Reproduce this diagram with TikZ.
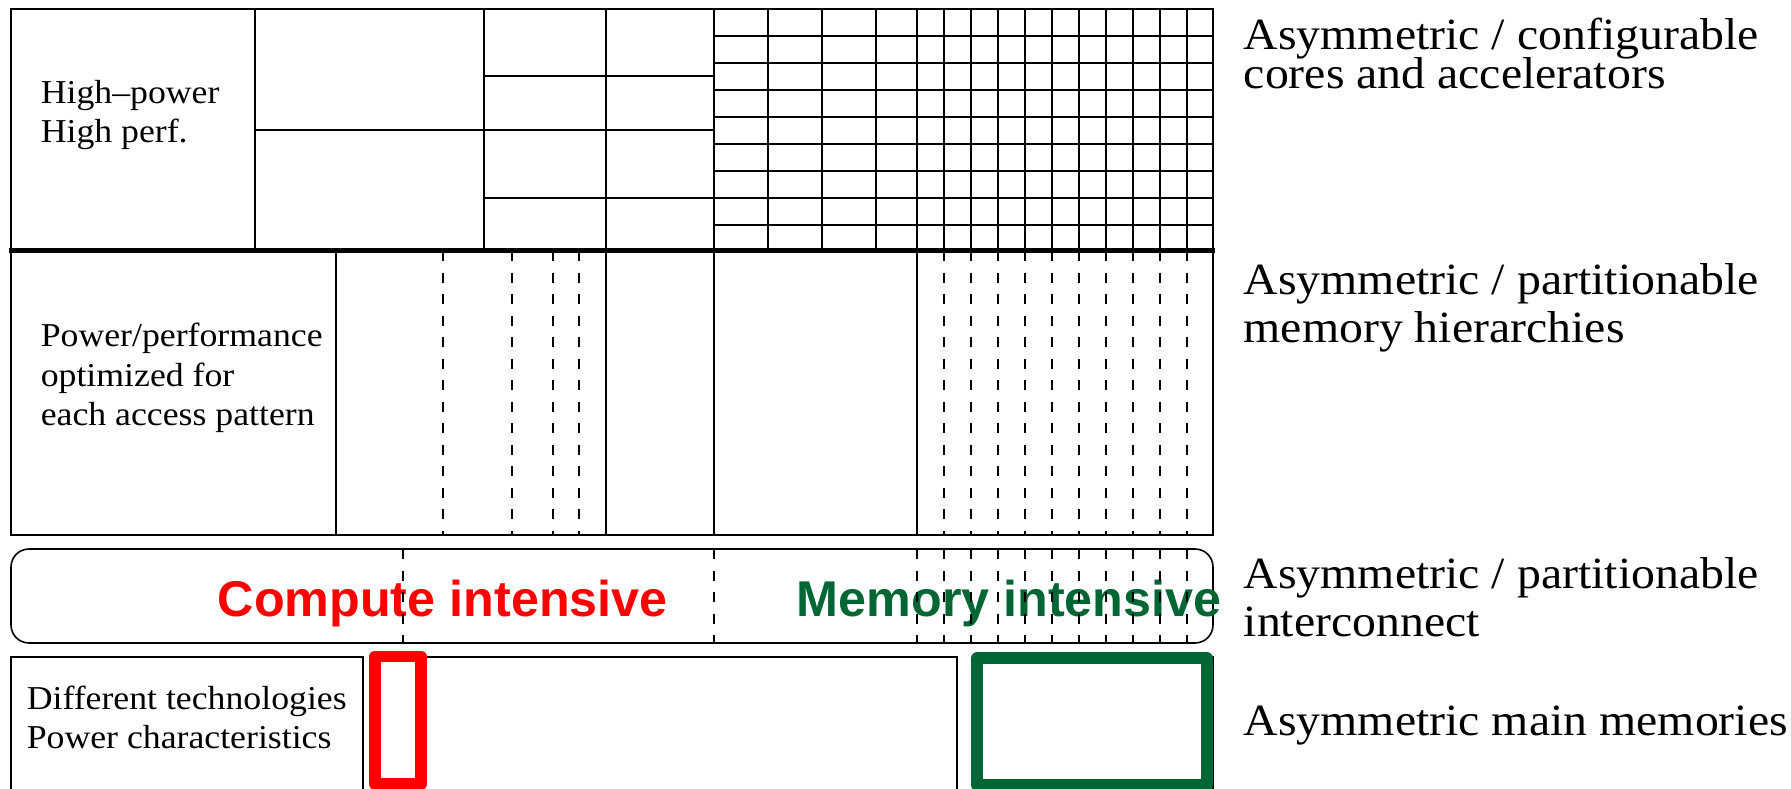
\documentclass[tikz,border=0pt]{standalone}
\usepackage{fontspec}
\newfontfamily\labelfont[FakeStretch=1.07]{Liberation Serif}
\newfontfamily\tagfont{Liberation Sans}
\definecolor{memgreen}{RGB}{0,102,51}

\begin{document}
\begin{tikzpicture}[x=0.01cm, y=-0.01cm, line width=0.45pt,
        cut/.style={dash pattern=on 0.1cm off 0.115cm},
        boxlabel/.style={anchor=base west, inner sep=0pt, align=left,
            font=\labelfont\fontsize{9.5pt}{11.3pt}\selectfont},
        sidelabel/.style={anchor=base west, inner sep=0pt, align=left,
            font=\labelfont\fontsize{12.7pt}{13.8pt}\selectfont},
        tag/.style={anchor=base west, inner sep=0pt,
            font=\tagfont\bfseries\fontsize{14.3pt}{16pt}\selectfont}]
    \useasboundingbox (0,0) rectangle (1791,789);

    % cores and accelerators
    \draw (11,251) -- (11,9) -- (1213,9) -- (1213,251);
    \draw (255,9) -- (255,251);
    \draw (484,9) -- (484,251);
    \draw (606,9) -- (606,251);
    \draw (714,9) -- (714,251);
    \draw (255,130) -- (714,130);
    \draw (484,76) -- (714,76);
    \draw (484,198) -- (714,198);
    \foreach \y in {36,63,...,225}
        \draw (714,\y) -- (1213,\y);
    \foreach \x in {768,822,876}
        \draw (\x,9) -- (\x,251);
    \foreach \x in {917,944,...,1187}
        \draw (\x,9) -- (\x,251);

    % memory hierarchies
    \draw (11,251) rectangle (1213,535);
    \draw (336,251) -- (336,535);
    \draw (606,251) -- (606,535);
    \draw (714,251) -- (714,535);
    \draw (917,251) -- (917,535);
    \foreach \x in {443,512,553,579}
        \draw[cut] (\x,251) -- (\x,535);
    \foreach \x in {944,971,...,1187}
        \draw[cut] (\x,251) -- (\x,535);
    \draw[line width=0.05cm] (9,251) -- (1215,251);

    % interconnect
    \draw[rounded corners=0.18cm] (11,549) rectangle (1213,643);
    \node[tag, text=red] (compute) at (217,617) {Compute intensive};
    \node[tag, text=memgreen] (memory) at (796,617) {Memory intensive};
    \foreach \x in {403,714,917,944,971,...,1187}
        \draw[cut] (\x,549) -- (\x,643);

    % main memories
    \draw (11,789) |- (363,657) -- (363,789);
    \draw (375,789) |- (957,657) -- (957,789);
    \draw (977,789) |- (1213,657) -- (1213,789);
    \draw[red, line width=0.115cm, line join=round] (375,656.5) rectangle (421,784);
    \draw[memgreen, line width=0.12cm, line join=round] (977,658.5) rectangle (1207,785);

    % row labels (base = last line)
    \node[boxlabel] (hp) at (40,143) {High\textendash power\\High perf.};
    \node[boxlabel] (pp) at (40,426) {Power/performance\\optimized for\\each access pattern};
    \node[boxlabel] (dt) at (26,749) {Different technologies\\Power characteristics};

    \node[sidelabel] (cores) at (1243,89) {Asymmetric / configurable\\[-2.5pt]cores and accelerators};
    \node[sidelabel] (hier) at (1243,343) {Asymmetric / partitionable\\memory hierarchies};
    \node[sidelabel] (noc) at (1243,637) {Asymmetric / partitionable\\interconnect};
    \node[sidelabel] (mem) at (1243,736) {Asymmetric main memories};
\end{tikzpicture}
\end{document}
